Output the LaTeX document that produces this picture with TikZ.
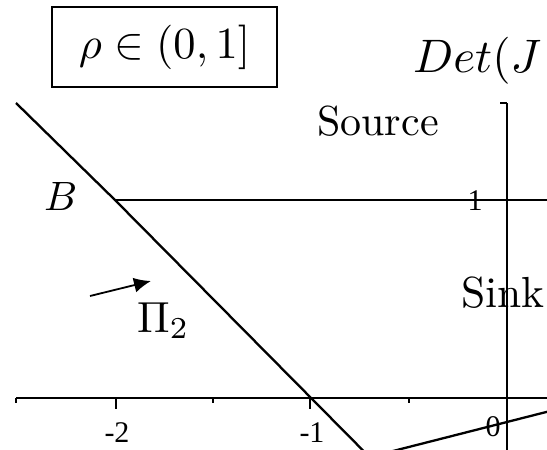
\documentclass[tikz,border=0pt]{standalone}
\usepackage{fontspec}
\usepackage{graphicx}
\newfontfamily\tickfont{Liberation Serif}
\usetikzlibrary{arrows.meta}
\newcommand{\bgtxt}[2]{\scalebox{#1}{#2}}
\begin{document}
\begin{tikzpicture}[x=1pt,y=-1pt,
  axis/.style={line width=1.8pt},
  curve/.style={line width=2.3pt},
  lbl/.style={inner sep=0pt},
  ticklbl/.style={font=\tickfont\fontsize{30}{34}\selectfont, inner sep=0pt},
  majtick/.style={line width=1.6pt},
  pointer/.style={line width=1.8pt, -{Latex[length=17pt,width=15pt]}}]
\useasboundingbox (0,0) rectangle (547,450);
\begin{scope}
\clip (0,0) rectangle (547,450);
% axes
\coordinate (xl) at (16,398);
\coordinate (xr) at (547,398);
\coordinate (yt) at (507,103);
\coordinate (yb) at (507,450);
\draw[axis] (xl) -- (xr);
\draw[axis] (507,103) -- (yb);
\draw[majtick] (500,103) -- (yt);
% x ticks
\foreach \px/\len in {16/5,116/11,213/5,310/11,409/5}
  \draw[majtick] (\px,398) -- (\px,398+\len);
% tick labels
\node[ticklbl] (tm2) at (117,433) {-2};
\node[ticklbl] (tm1) at (312,433) {-1};
\node[ticklbl] (t0) at (493,427) {0};
\node[ticklbl] (t1) at (475,201) {1};
% curves
\coordinate (P0) at (16,103);
\coordinate (PB) at (115,200);
\coordinate (PV) at (369.5,457);
\coordinate (PR) at (560,408.5);
\coordinate (HR) at (547,200);
\draw[axis] (PB) -- (HR);
\draw[curve] (P0) -- (PB) -- (PV) -- (PR);
% labels
\node[draw, line width=1.8pt, minimum width=225pt, minimum height=80pt, inner sep=0pt]
  (rho) at (164.5,47) {\bgtxt{4.45}{$\rho\in(0,1]$}};
\node[lbl, anchor=base west] (det) at (413,72) {\bgtxt{4.7}{$Det(J$}};
\node[lbl, anchor=base west] (src) at (317,135) {\bgtxt{4.2}{Source}};
\node[lbl, anchor=base west] (snk) at (461,307) {\bgtxt{4.35}{Sink}};
\node[lbl, anchor=base west] (Blbl) at (44,210) {\bgtxt{4.1}{$B$}};
\node[lbl, anchor=base west] (pi) at (137,332) {\bgtxt{4.35}{$\Pi_2$}};
\coordinate (AS) at (90,296);
\coordinate (AE) at (151,281);
\draw[pointer] (AS) -- (AE);
\end{scope}
\end{tikzpicture}
\end{document}
